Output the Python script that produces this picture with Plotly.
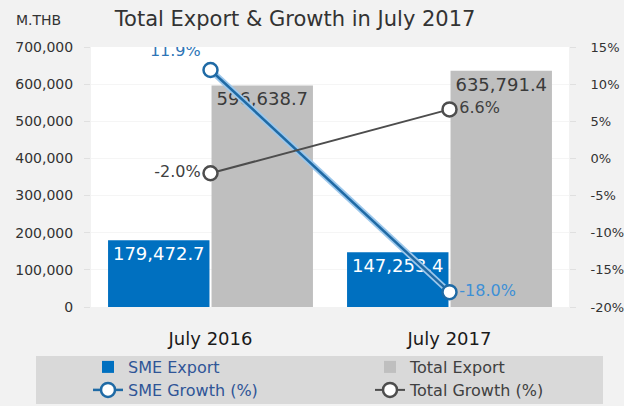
import plotly.graph_objects as go

categories = ["July 2016", "July 2017"]
sme_export = [179472.7, 147253.4]
total_export = [596638.7, 635791.4]
sme_growth = [11.9, -18.0]
total_growth = [-2.0, 6.6]

left_ticks = [0, 100000, 200000, 300000, 400000, 500000, 600000, 700000]
right_ticks = [-20, -15, -10, -5, 0, 5, 10, 15]

FONT = "DejaVu Sans"
SME_BLUE = "#0070c0"
TOTAL_GRAY = "#bfbfbf"
SME_LINE = "#1f6aa5"
TOTAL_LINE = "#4d4d4d"

fig = go.Figure()

fig.add_trace(go.Bar(
    x=categories, y=sme_export, name="SME Export",
    marker=dict(color=SME_BLUE, line=dict(width=0)),
    text=[f"{v:,.1f}" for v in sme_export],
    textposition="inside", insidetextanchor="end", constraintext="none",
    textfont=dict(family=FONT, size=18, color="white"),
    legend="legend",
))
fig.add_trace(go.Bar(
    x=categories, y=total_export, name="Total Export",
    marker=dict(color=TOTAL_GRAY, line=dict(width=0)),
    text=[f"{v:,.1f}" for v in total_export],
    textposition="inside", insidetextanchor="end", constraintext="none",
    textfont=dict(family=FONT, size=18, color="#3a3a3a"),
    legend="legend2",
))

# halo under SME growth line
fig.add_trace(go.Scatter(
    x=categories, y=sme_growth, yaxis="y2", mode="lines",
    line=dict(color="#9dc8ec", width=6), showlegend=False, hoverinfo="skip",
))
fig.add_trace(go.Scatter(
    x=categories, y=sme_growth, yaxis="y2", name="SME Growth (%)",
    mode="lines+markers+text",
    line=dict(color=SME_LINE, width=2.5),
    marker=dict(symbol="circle", size=14, color="white", line=dict(color=SME_LINE, width=2.5)),
    text=[f"{v:.1f}%" for v in sme_growth],
    textposition=["top left", "middle right"],
    textfont=dict(family=FONT, size=16, color=["#2e75b6", "#3d8fd6"]),
    legend="legend3",
))
fig.add_trace(go.Scatter(
    x=categories, y=total_growth, yaxis="y2", name="Total Growth (%)",
    mode="lines+markers+text",
    line=dict(color=TOTAL_LINE, width=2),
    marker=dict(symbol="circle", size=14, color="white", line=dict(color=TOTAL_LINE, width=2.5)),
    text=[f"{v:.1f}%" for v in total_growth],
    textposition=["middle left", "middle right"],
    textfont=dict(family=FONT, size=16, color="#404040"),
    legend="legend4",
))

legend_common = dict(orientation="h", bgcolor="rgba(0,0,0,0)", xanchor="left", yanchor="middle",
                     itemwidth=30)

L, R, T, B = 91, 55, 47, 99
PW, PH = 624 - L - R, 406 - T - B

def px_x(px):
    return (px - L) / PW

def px_y(py):
    return (406 - B - py) / PH

fig.update_layout(
    width=624, height=406,
    margin=dict(l=L, r=R, t=T, b=B, autoexpand=False),
    paper_bgcolor="#f2f2f2",
    plot_bgcolor="white",
    barmode="group", bargap=0.134, bargroupgap=0.02,
    title=dict(text="Total Export & Growth in July 2017", x=0.473, xanchor="center",
               y=0.955, yanchor="middle", font=dict(family=FONT, size=21, color="#333333")),
    font=dict(family=FONT, color="#333333"),
    xaxis=dict(
        type="category", showgrid=False, zeroline=False, showline=False,
        ticks="", ticklabelstandoff=19,
        tickfont=dict(family=FONT, size=18, color="#1a1a1a"),
    ),
    yaxis=dict(
        range=[0, 700000], tickvals=left_ticks,
        ticktext=[f"{v:,}" for v in left_ticks],
        showgrid=True, gridcolor="#f5f5f5", zeroline=False,
        ticks="outside", ticklen=6, tickcolor="#e0e0e0", ticklabelstandoff=8,
        tickfont=dict(family=FONT, size=14, color="#333333"),
        showline=False,
    ),
    yaxis2=dict(
        overlaying="y", side="right", range=[-20, 15], tickvals=right_ticks,
        ticktext=[f"{v}%" for v in right_ticks],
        showgrid=False, zeroline=False,
        ticks="outside", ticklen=6, tickcolor="#e0e0e0", ticklabelstandoff=12,
        tickfont=dict(family=FONT, size=13, color="#333333"),
    ),
    legend=dict(x=px_x(88), y=px_y(367), font=dict(family=FONT, size=16, color="#2f5597"), **legend_common),
    legend2=dict(x=px_x(370), y=px_y(367), font=dict(family=FONT, size=16, color="#404040"), **legend_common),
    legend3=dict(x=px_x(88), y=px_y(390), font=dict(family=FONT, size=16, color="#2f5597"), **legend_common),
    legend4=dict(x=px_x(370), y=px_y(390), font=dict(family=FONT, size=16, color="#404040"), **legend_common),
    shapes=[dict(type="rect", xref="paper", yref="paper", x0=px_x(36), x1=px_x(603),
                 y0=px_y(404), y1=px_y(356),
                 fillcolor="#d9d9d9", line=dict(width=0), layer="below")],
    annotations=[dict(text="M.THB", xref="paper", yref="paper", x=px_x(63), y=px_y(20),
                      xanchor="right", yanchor="middle", showarrow=False,
                      font=dict(family=FONT, size=14, color="#333333"))],
)

fig.write_html("out.html", config={"displayModeBar": False},
               post_script="document.body.style.margin='0';document.body.style.background='#f2f2f2';")
